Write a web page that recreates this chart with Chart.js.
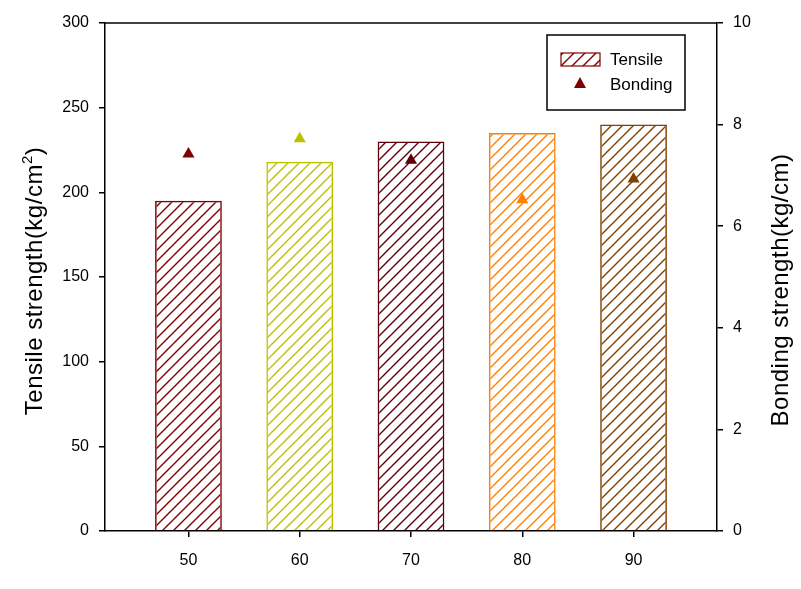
<!DOCTYPE html>
<html>
<head>
<meta charset="utf-8">
<script src="https://cdn.jsdelivr.net/npm/chart.js@4/dist/chart.umd.min.js"></script>
<style>
  html, body { margin: 0; padding: 0; background: #fff; }
  #wrap { width: 801px; height: 589px; }
</style>
</head>
<body>
<div id="wrap"><canvas id="chart" width="801" height="589"></canvas></div>
<script>
// data
var categories = [50, 60, 70, 80, 90];
var tensile = [195, 218, 230, 235, 240];           // kg/cm2, left axis
var bonding = [7.42, 7.72, 7.30, 6.52, 6.93];      // kg/cm, right axis
var barColors = ['#800000', '#BDC000', '#5E0008', '#FF8000', '#804000'];
var leftTicks = [0, 50, 100, 150, 200, 250, 300];
var rightTicks = [0, 2, 4, 6, 8, 10];

var FONT = "'Liberation Sans', Arial, sans-serif";

// diagonal "/" hatch used for the bars
function hatch(color) {
    var s = 11;
    var c = document.createElement('canvas');
    c.width = s; c.height = s;
    var g = c.getContext('2d');
    g.strokeStyle = color;
    g.lineWidth = 1.4;
    g.beginPath();
    g.moveTo(-1, s + 1); g.lineTo(s + 1, -1);
    g.moveTo(-1, 1); g.lineTo(1, -1);
    g.moveTo(s - 1, s + 1); g.lineTo(s + 1, s - 1);
    g.stroke();
    return document.getElementById('chart').getContext('2d').createPattern(c, 'repeat');
}

var barData = categories.map(function (c, i) { return {x: c, y: tensile[i]}; });
var pointData = categories.map(function (c, i) { return {x: c, y: bonding[i]}; });

// both axis titles read bottom-to-top, so draw them here
function drawTitle(ctx, x, y, parts) {
    ctx.save();
    ctx.translate(x, y);
    ctx.rotate(-Math.PI / 2);
    ctx.textBaseline = 'alphabetic';
    ctx.textAlign = 'left';
    ctx.letterSpacing = '0.5px';
    var total = 0;
    parts.forEach(function (p) {
        ctx.font = p.size + 'px ' + FONT;
        p.w = ctx.measureText(p.text).width;
        total += p.w;
    });
    var cx = -total / 2;
    parts.forEach(function (p) {
        ctx.font = p.size + 'px ' + FONT;
        ctx.fillText(p.text, cx, p.rise || 0);
        cx += p.w;
    });
    ctx.restore();
}

// frame on top, axis titles and the legend box in the upper right
var framePlugin = {
    id: 'frame',
    afterDraw: function (chart) {
        var ctx = chart.ctx, a = chart.chartArea;
        ctx.save();
        ctx.strokeStyle = '#000';
        ctx.lineWidth = 1.5;
        ctx.beginPath();
        ctx.moveTo(a.left, a.top);
        ctx.lineTo(a.right, a.top);
        ctx.stroke();

        ctx.fillStyle = '#000';
        drawTitle(ctx, 42, 281, [
            {text: 'Tensile strength(kg/cm', size: 24},
            {text: '2', size: 15, rise: -10},
            {text: ')', size: 24}
        ]);
        drawTitle(ctx, 788, 290, [{text: 'Bonding strength(kg/cm)', size: 24}]);

        // legend
        ctx.lineWidth = 1.5;
        ctx.strokeRect(547, 35, 138, 75);
        ctx.fillStyle = hatch(barColors[0]);
        ctx.fillRect(561, 53, 39, 13);
        ctx.strokeStyle = barColors[0];
        ctx.lineWidth = 1.2;
        ctx.strokeRect(561, 53, 39, 13);
        ctx.fillStyle = barColors[0];
        ctx.beginPath();
        ctx.moveTo(580, 77); ctx.lineTo(586, 88); ctx.lineTo(574, 88);
        ctx.closePath(); ctx.fill();
        ctx.fillStyle = '#000';
        ctx.font = '17px ' + FONT;
        ctx.textBaseline = 'middle';
        ctx.fillText(chart.data.datasets[0].label, 610, 60);
        ctx.fillText(chart.data.datasets[1].label, 610, 85);
        ctx.restore();
    }
};

new Chart(document.getElementById('chart'), {
    data: {
        datasets: [{
            type: 'bar',
            label: 'Tensile',
            data: barData,
            backgroundColor: barColors.map(hatch),
            borderColor: barColors,
            borderWidth: 1.5,
            categoryPercentage: 1,
            barPercentage: 0.6,
            yAxisID: 'y',
            order: 2
        }, {
            type: 'scatter',
            label: 'Bonding',
            data: pointData,
            pointStyle: 'triangle',
            pointRadius: 7,
            backgroundColor: barColors,
            borderColor: barColors,
            borderWidth: 0,
            yAxisID: 'y2',
            order: 1
        }]
    },
    options: {
        responsive: false,
        animation: false,
        layout: {padding: {top: 23, left: 0, right: 0, bottom: 0}},
        plugins: {legend: {display: false}, tooltip: {enabled: false}},
        scales: {
            x: {
                type: 'linear',
                offset: false,
                min: 42.5,
                max: 97.5,
                afterBuildTicks: function (s) { s.ticks = categories.map(function (v) { return {value: v}; }); },
                afterFit: function (s) { s.height = 58; },
                grid: {offset: false, drawOnChartArea: false, tickLength: 6, color: '#000', lineWidth: 1.5},
                border: {display: true, color: '#000', width: 1.5},
                ticks: {color: '#000', font: {family: FONT, size: 16}, padding: 14}
            },
            y: {
                position: 'left',
                min: 0,
                max: 300,
                afterBuildTicks: function (s) { s.ticks = leftTicks.map(function (v) { return {value: v}; }); },
                afterFit: function (s) { s.width = 105; },
                grid: {drawOnChartArea: false, tickLength: 6, color: '#000', lineWidth: 1.5},
                border: {display: true, color: '#000', width: 1.5},
                ticks: {color: '#000', font: {family: FONT, size: 16}, padding: 10}
            },
            y2: {
                position: 'right',
                min: 0,
                max: 10,
                afterBuildTicks: function (s) { s.ticks = rightTicks.map(function (v) { return {value: v}; }); },
                afterFit: function (s) { s.width = 84; },
                grid: {drawOnChartArea: false, tickLength: 6, color: '#000', lineWidth: 1.5},
                border: {display: true, color: '#000', width: 1.5},
                ticks: {color: '#000', font: {family: FONT, size: 16}, padding: 10}
            }
        }
    },
    plugins: [framePlugin]
});
</script>
</body>
</html>
